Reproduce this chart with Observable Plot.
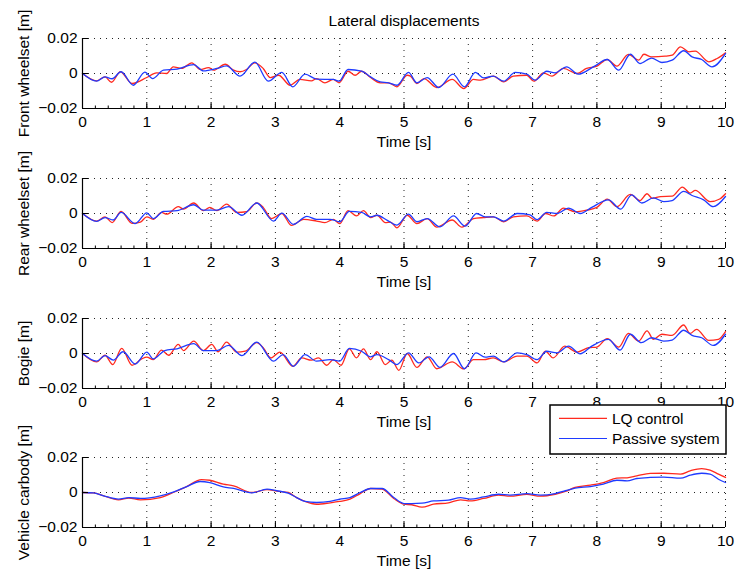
<!DOCTYPE html>
<html><head><meta charset="utf-8">
<script src="https://cdn.jsdelivr.net/npm/d3@7"></script>
<script src="https://cdn.jsdelivr.net/npm/@observablehq/plot@0.6"></script>
<style>
body{margin:0;background:#fff;}
#chart{position:relative;width:738px;height:573px;font-family:"Liberation Sans",Arial,Helvetica,sans-serif;}
</style></head><body><div id="chart"></div>
<script>
// ---- data (time [s], displacement [mm]) ----
const chartTitle = "Lateral displacements";
const xLabel = "Time [s]";
const seriesNames = ["LQ control", "Passive system"];
const panelLabels = ["Front wheelset [m]", "Rear wheelset [m]", "Bogie [m]", "Vehicle carbody [m]"];
const timeTicks = [0,1,2,3,4,5,6,7,8,9,10];
const valueTicks = [-0.02, 0, 0.02];
const valueTickLabels = ["\u22120.02", "0", "0.02"];

const frontLQ = [[0,0],[0.22,-4.2],[0.35,-1.9],[0.45,-5],[0.59,1],[0.77,-5.7],[1.0,-2.3],[1.15,0.4],[1.31,0],[1.41,3.8],[1.54,2.9],[1.7,6.1],[1.83,2.3],[1.96,3.4],[2.04,1.9],[2.22,5.3],[2.35,1.9],[2.45,1],[2.55,2.3],[2.68,6.1],[2.81,2.9],[2.92,-2.3],[3.05,-1],[3.23,-6.7],[3.38,-3.4],[3.56,-4.2],[3.64,-2.9],[3.77,-5.3],[3.9,-3.4],[3.99,-5.3],[4.13,1.3],[4.24,-1],[4.34,1.3],[4.48,-2.3],[4.63,-5.3],[4.76,-5.3],[4.89,-7.6],[5.05,-1],[5.1,-1.5],[5.2,-5.7],[5.31,-2.9],[5.51,-8],[5.75,-3.4],[5.93,-8.6],[6.08,-3.4],[6.19,-3.8],[6.39,-1.5],[6.55,-4.8],[6.7,-1.5],[6.91,-1],[7.02,-4.4],[7.17,0.4],[7.3,-1.5],[7.48,2.9],[7.69,0],[7.84,2.9],[8.0,4.2],[8.16,8],[8.31,4.2],[8.49,10.9],[8.65,7.6],[8.73,11],[8.85,9.5],[9.06,9.9],[9.17,10.5],[9.3,15.2],[9.43,12.4],[9.53,12.8],[9.74,6.7],[9.87,8.6],[10,11.8]];
const frontPassive = [[0,0],[0.22,-4.4],[0.35,-1.9],[0.46,-3],[0.6,1],[0.79,-6.7],[0.97,0.8],[1.09,-2.9],[1.26,1.9],[1.47,2.5],[1.73,5.1],[1.88,1.5],[2.09,2.9],[2.24,4.4],[2.45,-1.5],[2.68,6.5],[2.89,-4.4],[3.1,0.6],[3.27,-7.6],[3.46,-0.4],[3.64,-3.2],[3.9,-3.4],[3.99,-4.4],[4.13,2.3],[4.34,1.3],[4.48,-1.9],[4.63,-4.8],[4.76,-5.3],[4.89,-6.7],[5.07,0.6],[5.2,-5.3],[5.36,-2.3],[5.54,-8],[5.76,-0.4],[5.94,-7.6],[6.11,0.6],[6.24,-2.5],[6.39,-1.5],[6.55,-4.4],[6.73,0.6],[6.91,-0.4],[7.04,-3.8],[7.22,1.3],[7.35,0.4],[7.53,3.8],[7.71,-0.4],[7.95,3.9],[8.16,8],[8.34,1.9],[8.52,11],[8.67,5.7],[8.85,8.8],[9.01,6.3],[9.17,7.6],[9.35,13],[9.48,9.5],[9.63,8],[9.79,3.8],[10,11.4]];

const rearLQ = [[0,0],[0.22,-4.3],[0.35,-1.9],[0.46,-5.2],[0.6,1.2],[0.77,-5.6],[0.9,-4.9],[1.0,-1.9],[1.1,-3.3],[1.23,0.6],[1.31,-0.4],[1.49,3.9],[1.57,2.5],[1.73,6],[1.88,1.6],[1.98,3.5],[2.09,1.6],[2.24,5.4],[2.4,0.6],[2.55,1],[2.71,6],[2.81,3.5],[2.94,-2.9],[3.1,0],[3.25,-6.8],[3.44,-3.3],[3.64,-4.3],[3.77,-5.2],[3.9,-3.3],[4.0,-5.8],[4.13,1.6],[4.26,-1.4],[4.37,1.6],[4.48,-2.3],[4.58,-1],[4.71,-5.2],[4.79,-4.9],[4.89,-8.2],[5.05,-1],[5.2,-5.8],[5.36,-2.9],[5.51,-7.8],[5.75,-3.7],[5.9,-7.8],[6.08,-2.9],[6.24,-2.3],[6.39,-1.9],[6.55,-4.7],[6.7,-1.9],[6.91,-1.4],[7.07,-4.3],[7.2,0],[7.33,-1.4],[7.48,3.1],[7.66,1],[7.84,1.9],[8.0,3.5],[8.16,8.2],[8.31,3.9],[8.52,10.9],[8.67,7.4],[8.78,11.3],[8.86,8.7],[8.99,9.7],[9.17,9.9],[9.33,15.1],[9.45,11.7],[9.53,13.2],[9.76,6.8],[9.91,8.3],[10,11.3]];
const rearPassive = [[0,0],[0.22,-4.5],[0.35,-2.3],[0.48,-3.7],[0.6,0.6],[0.82,-5.8],[1.0,0.4],[1.1,-2.9],[1.26,1.2],[1.47,1.6],[1.73,5],[1.88,1.9],[2.09,1.9],[2.27,3.9],[2.48,-1],[2.71,6],[2.97,-4.3],[3.1,0.2],[3.28,-6.2],[3.49,-1.6],[3.64,-3.3],[3.85,-3.3],[4.0,-4.7],[4.15,1.2],[4.34,0.6],[4.48,-1.9],[4.58,-1],[4.74,-3.9],[4.89,-6.6],[5.07,-0.4],[5.2,-4.7],[5.36,-2.9],[5.56,-7.6],[5.77,-1.4],[5.95,-7.2],[6.13,0],[6.26,-1.9],[6.39,-1.9],[6.55,-4.3],[6.76,0],[6.96,-0.8],[7.07,-3.5],[7.22,0.6],[7.38,0],[7.56,3.1],[7.74,0],[7.92,3.5],[8.18,7.8],[8.37,2.5],[8.54,10.7],[8.7,6],[8.88,8.9],[9.04,6.8],[9.17,7.4],[9.35,12.6],[9.48,10.3],[9.66,7.8],[9.81,3.9],[10,9.7]];

const bogieLQ = [[0,0],[0.22,-4.8],[0.35,-1],[0.47,-6.3],[0.61,2.9],[0.77,-6.7],[0.92,-3.1],[1.0,-2.1],[1.1,-3.5],[1.23,1.9],[1.34,-1],[1.49,5.2],[1.57,1.7],[1.73,7.1],[1.88,1.7],[2.01,5.2],[2.11,1],[2.24,6.5],[2.4,0.8],[2.53,1.3],[2.71,6.2],[2.81,3.3],[2.93,-2.5],[3.07,0.8],[3.27,-7.3],[3.41,-2.5],[3.56,-3.8],[3.67,-2.5],[3.8,-6.7],[3.9,-3.5],[4.02,-6.7],[4.15,2.7],[4.26,-2.5],[4.37,2.7],[4.48,-3.5],[4.58,1],[4.71,-6.3],[4.81,-3.8],[4.92,-9.6],[5.05,0],[5.2,-7.9],[5.36,-1.9],[5.51,-8.7],[5.75,-4.8],[5.93,-8.8],[6.08,-3.5],[6.24,-3.5],[6.39,-2.5],[6.55,-4.8],[6.76,-1.5],[6.91,-1.5],[7.07,-5.4],[7.2,1.3],[7.32,-2.5],[7.5,4.2],[7.69,0.8],[7.87,3.3],[8.0,3.7],[8.16,8.5],[8.34,3.7],[8.49,11.5],[8.65,7.1],[8.78,12.9],[8.88,8.1],[9.01,11],[9.17,10.4],[9.35,16.3],[9.45,11.5],[9.55,13.8],[9.74,7.5],[9.89,8.1],[10,12.5]];
const bogiePassive = [[0,0],[0.22,-4.4],[0.35,-1.2],[0.48,-3.8],[0.63,1],[0.82,-6],[1.0,0.8],[1.1,-3.1],[1.28,1.7],[1.47,2.7],[1.73,5.6],[1.88,1.7],[2.09,1.7],[2.27,4.6],[2.48,-1.2],[2.71,6.5],[2.97,-4.4],[3.12,-0.6],[3.28,-7.3],[3.46,-0.6],[3.64,-4.4],[3.85,-3.5],[4.0,-4.4],[4.15,2.9],[4.34,1.3],[4.48,-1.9],[4.58,-0.6],[4.76,-3.5],[4.89,-6.3],[5.07,0.4],[5.23,-5.4],[5.39,-1.9],[5.56,-7.9],[5.77,0],[5.94,-8.7],[6.12,0.4],[6.26,-2.1],[6.39,-1.5],[6.55,-4.8],[6.76,0.4],[6.91,-0.6],[7.07,-3.5],[7.22,1.3],[7.38,0.4],[7.56,4.2],[7.74,-0.2],[7.92,4.2],[8.18,8.1],[8.36,1.9],[8.52,11],[8.69,6.2],[8.85,9],[9.04,7.1],[9.17,7.7],[9.35,13.3],[9.48,10.4],[9.63,9],[9.81,4.6],[10,11]];

const carbodyLQ = [[0,0],[0.17,-0.2],[0.33,-1.9],[0.56,-4.2],[0.72,-3.2],[0.9,-4.2],[1.21,-2.9],[1.41,0],[1.62,3.4],[1.85,7.4],[1.98,7],[2.19,4.8],[2.35,3.8],[2.63,0],[2.87,1.7],[3.02,0.8],[3.2,0],[3.33,-2.9],[3.46,-5.1],[3.64,-6.7],[3.85,-5.9],[4.0,-5.1],[4.16,-3.8],[4.32,-0.6],[4.48,2.3],[4.66,1.9],[4.84,-3.4],[5.0,-6.7],[5.12,-7],[5.28,-8.4],[5.46,-6.7],[5.69,-5.9],[5.88,-4.2],[6.03,-4.8],[6.24,-3.4],[6.47,-1.5],[6.65,-2.1],[6.91,-1.1],[7.12,-2.1],[7.35,-1],[7.51,0.6],[7.66,2.9],[7.9,4.2],[8.1,5.7],[8.31,8.2],[8.47,8.4],[8.62,9.5],[8.83,10.9],[9.04,11],[9.3,10.5],[9.45,12.4],[9.63,13.7],[9.76,12.8],[9.89,10.5],[10,8.6]];
const carbodyPassive = [[0,0],[0.17,-0.2],[0.33,-1.9],[0.56,-3.8],[0.72,-2.9],[0.9,-3.4],[1.21,-1.9],[1.41,0.2],[1.62,3.4],[1.83,6.3],[1.98,5.7],[2.19,3.2],[2.35,2.3],[2.63,-0.2],[2.87,1.9],[3.02,1],[3.2,-0.4],[3.33,-2.9],[3.46,-5.1],[3.64,-5.7],[3.85,-5.1],[4.0,-3.8],[4.16,-2.9],[4.32,0],[4.48,2.3],[4.66,2.3],[4.84,-2.9],[5.0,-6.3],[5.12,-6.3],[5.28,-6.1],[5.46,-4.8],[5.69,-4.4],[5.88,-2.9],[6.03,-3.8],[6.24,-2.5],[6.47,-1],[6.65,-1.5],[6.91,-0.6],[7.12,-1.5],[7.35,-0.6],[7.51,1],[7.66,2.5],[7.9,3.4],[8.1,4.8],[8.31,7],[8.47,6.7],[8.62,8],[8.83,8.6],[9.04,8.8],[9.3,8.2],[9.45,9.9],[9.63,11],[9.76,10.5],[9.89,7.6],[10,5.7]];

// ---- drawing ----
const RED = "#ff2a1f", BLUE = "#1f3bff";
const FONT = "'Liberation Sans', Arial, Helvetica, sans-serif";
const FS = 15.5;
const minorTicks = d3.range(0, 10.001, 0.2);
const gridX = timeTicks.slice(1);
const gridY = valueTicks.slice(1);
const root = document.getElementById("chart");

function panel(lq, passive, label, top, withTitle) {
  const marks = [
    Plot.ruleX(gridX, {stroke: "#222", strokeWidth: 1, strokeDasharray: "1,5"}),
    Plot.ruleY(gridY, {stroke: "#222", strokeWidth: 1, strokeDasharray: "1,5"}),
    Plot.line(lq, {x: d => d[0], y: d => d[1] / 1000, stroke: RED, strokeWidth: 1.3, curve: "monotone-x"}),
    Plot.line(passive, {x: d => d[0], y: d => d[1] / 1000, stroke: BLUE, strokeWidth: 1.3, curve: "monotone-x"}),
    Plot.ruleX([0], {stroke: "#000", strokeWidth: 1.2}),
    Plot.ruleY([-0.02], {stroke: "#000", strokeWidth: 1.2}),
    Plot.ruleX(timeTicks, {stroke: "#000", insetTop: 64}),
    Plot.ruleX(minorTicks, {stroke: "#000", insetTop: 67.5}),
    Plot.ruleY(valueTicks, {stroke: "#000", insetRight: 637}),
    // tick labels
    Plot.text(timeTicks, {x: d => d, text: d => String(d), frameAnchor: "bottom", textAnchor: "middle", lineAnchor: "middle", dy: 13.7, fontSize: FS, fill: "#000"}),
    Plot.text(valueTicks, {y: d => d, text: (d, i) => valueTickLabels[i], frameAnchor: "left", textAnchor: "end", lineAnchor: "middle", dx: -5, fontSize: FS, fill: "#000"}),
    // axis labels
    Plot.text([label], {text: d => d, frameAnchor: "left", textAnchor: "middle", lineAnchor: "middle", dx: -58, rotate: -90, fontSize: FS, fill: "#000"}),
    Plot.text([xLabel], {text: d => d, frameAnchor: "bottom", textAnchor: "middle", lineAnchor: "middle", dy: 33.5, fontSize: FS, fill: "#000"})
  ];
  if (withTitle) marks.push(Plot.text([chartTitle], {text: d => d, frameAnchor: "top", textAnchor: "middle", lineAnchor: "middle", dy: -17, fontSize: FS, fill: "#000"}));
  const svg = Plot.plot({
    width: 738, height: 160,
    marginLeft: 82, marginRight: 13, marginTop: 38, marginBottom: 52,
    style: {background: "transparent", overflow: "visible", fontFamily: FONT, color: "#000"},
    x: {domain: [0, 10], axis: null},
    y: {domain: [-0.02, 0.02], axis: null},
    marks
  });
  svg.style.position = "absolute";
  svg.style.left = "0px";
  svg.style.top = top + "px";
  root.appendChild(svg);
}

panel(frontLQ, frontPassive, panelLabels[0], 0, true);
panel(rearLQ, rearPassive, panelLabels[1], 140, false);
panel(bogieLQ, bogiePassive, panelLabels[2], 280, false);
panel(carbodyLQ, carbodyPassive, panelLabels[3], 419, false);

// legend
const ns = "http://www.w3.org/2000/svg";
const leg = document.createElementNS(ns, "svg");
leg.setAttribute("width", 178); leg.setAttribute("height", 51);
leg.style.position = "absolute"; leg.style.left = "549px"; leg.style.top = "404px";
const rect = document.createElementNS(ns, "rect");
rect.setAttribute("x", 1); rect.setAttribute("y", 1); rect.setAttribute("width", 176); rect.setAttribute("height", 49);
rect.setAttribute("fill", "#fff"); rect.setAttribute("stroke", "#000"); rect.setAttribute("stroke-width", 1.5);
leg.appendChild(rect);
[[RED, 14.3], [BLUE, 34.5]].forEach(([c, y], i) => {
  const l = document.createElementNS(ns, "line");
  l.setAttribute("x1", 10); l.setAttribute("x2", 58); l.setAttribute("y1", y); l.setAttribute("y2", y);
  l.setAttribute("stroke", c); l.setAttribute("stroke-width", 1.2);
  leg.appendChild(l);
  const t = document.createElementNS(ns, "text");
  t.setAttribute("x", 63); t.setAttribute("y", y); t.setAttribute("dy", "0.35em");
  t.setAttribute("font-size", FS); t.setAttribute("font-family", FONT);
  t.textContent = seriesNames[i];
  leg.appendChild(t);
});
root.appendChild(leg);
</script></body></html>
